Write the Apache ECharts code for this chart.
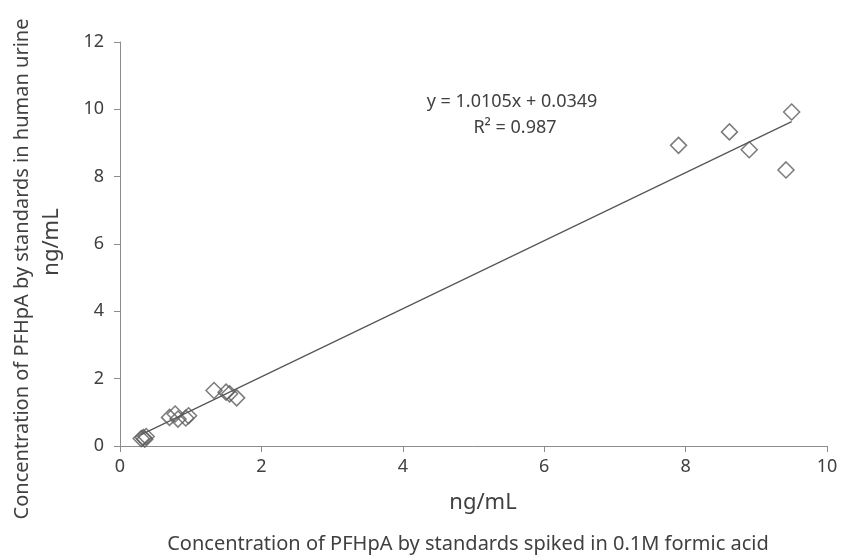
<!DOCTYPE html>
<html>
<head>
<meta charset="utf-8">
<script src="https://cdn.jsdelivr.net/npm/echarts@6/dist/echarts.min.js"></script>
<style>
html,body{margin:0;padding:0;background:#fff;}
#one{width:843px;height:555px;}
</style>
</head>
<body>
<div id="one"></div>
<script>
// measured points (x: formic acid standards, y: urine standards), ng/mL
var xVals = [0.30, 0.33, 0.35, 0.37, 0.70, 0.78, 0.82, 0.93, 0.97, 1.33, 1.50, 1.55, 1.65, 7.90, 8.62, 8.90, 9.42, 9.50];
var yVals = [0.22, 0.25, 0.20, 0.28, 0.85, 0.95, 0.80, 0.83, 0.90, 1.65, 1.60, 1.55, 1.43, 8.93, 9.33, 8.80, 8.20, 9.92];
// linear fit from the chart
var slope = 1.0105;
var intercept = 0.0349;
var fitText = ['y = 1.0105x + 0.0349', 'R\u00b2 = 0.987'];
var xTicks = [0, 2, 4, 6, 8, 10];
var yTicks = [0, 2, 4, 6, 8, 10, 12];

var pts = xVals.map(function (x, i) { return [x, yVals[i]]; });
var xMin = Math.min.apply(null, xVals);
var xMax = Math.max.apply(null, xVals);
var fitLine = [[xMin, slope * xMin + intercept], [xMax, slope * xMax + intercept]];

var chart = echarts.init(document.getElementById('one'));
var txt = '#404040';
var font = 'Noto Sans';

var option = {
    backgroundColor: '#fff',
    animation: false,
    textStyle: { fontFamily: font },
    grid: { left: 120, right: 16, top: 42, bottom: 109 },
    xAxis: {
        type: 'value',
        min: xTicks[0], max: xTicks[xTicks.length - 1], interval: 2,
        axisLine: { lineStyle: { color: '#8c8c8c', width: 1 } },
        axisTick: { show: true, length: 6, lineStyle: { color: '#8c8c8c' } },
        axisLabel: { fontSize: 18, color: txt, margin: 12 },
        splitLine: { show: false }
    },
    yAxis: {
        type: 'value',
        min: yTicks[0], max: yTicks[yTicks.length - 1], interval: 2,
        axisLine: { show: true, lineStyle: { color: '#8c8c8c', width: 1 } },
        axisTick: { show: true, length: 6, lineStyle: { color: '#8c8c8c' } },
        axisLabel: { fontSize: 18, color: txt, margin: 16 },
        splitLine: { show: false }
    },
    graphic: [
        {
            type: 'text', x: 483, y: 503,
            style: { text: 'ng/mL', fontSize: 22, fill: txt, fontFamily: font, align: 'center', verticalAlign: 'middle' }
        },
        {
            type: 'text', x: 52, y: 242, rotation: Math.PI / 2,
            style: { text: 'ng/mL', fontSize: 22, fill: txt, fontFamily: font, align: 'center', verticalAlign: 'middle' }
        },
        {
            type: 'text', x: 468, y: 544,
            style: { text: 'Concentration of PFHpA by standards spiked in 0.1M formic acid', fontSize: 20, fill: txt, fontFamily: font, align: 'center', verticalAlign: 'middle' }
        },
        {
            type: 'text', x: 22, y: 269, rotation: Math.PI / 2,
            style: { text: 'Concentration of PFHpA by standards in human urine', fontSize: 20, fill: txt, fontFamily: font, align: 'center', verticalAlign: 'middle' }
        },
        {
            type: 'text', x: 512, y: 102,
            style: { text: fitText[0], fontSize: 18, fill: txt, fontFamily: font, align: 'center', verticalAlign: 'middle' }
        },
        {
            type: 'text', x: 515, y: 128,
            style: { text: fitText[1], fontSize: 18, fill: txt, fontFamily: font, align: 'center', verticalAlign: 'middle' }
        }
    ],
    series: [
        {
            type: 'line',
            data: fitLine,
            symbol: 'none',
            lineStyle: { color: '#555', width: 1.2 },
            silent: true,
            z: 1
        },
        {
            type: 'scatter',
            data: pts,
            symbol: 'diamond',
            symbolSize: 16,
            itemStyle: { color: 'rgba(255,255,255,0)', borderColor: '#5a5a5a', borderWidth: 1.5 },
            z: 2
        }
    ]
};
chart.setOption(option);
</script>
</body>
</html>
